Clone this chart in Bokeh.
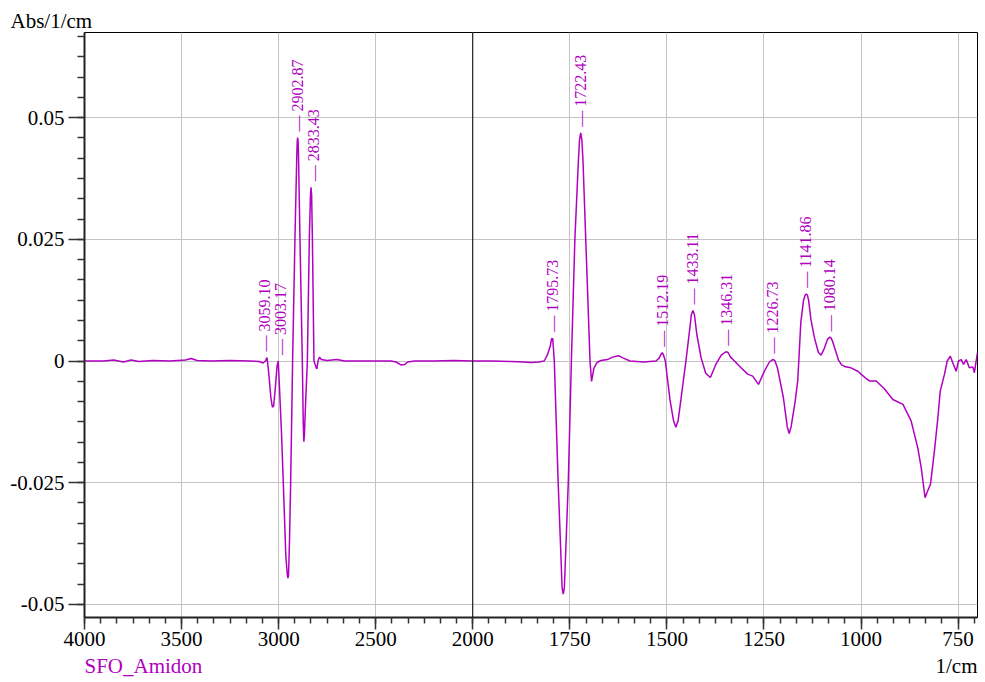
import math
from bokeh.plotting import figure
from bokeh.layouts import column
from bokeh.models import Range1d, FixedTicker, CustomJSTickFormatter, Span
from bokeh.core.properties import value
from bokeh.embed import file_html
from bokeh.resources import INLINE

# ---------------- data (wavenumber in 1/cm, absorbance) ----------------
# high-wavenumber segment 4000 -> 2000
wn_hi = [4000, 3900, 3850, 3800, 3760, 3720, 3650, 3560, 3480, 3450, 3420, 3350,
         3250, 3150, 3100, 3080, 3068, 3060, 3052, 3040, 3032, 3026, 3018, 3008,
         3002, 2995, 2985, 2976, 2963, 2955, 2952, 2949, 2944, 2938, 2928, 2916,
         2906, 2904, 2902, 2900, 2898, 2890, 2878, 2873, 2870, 2867, 2861, 2852,
         2842, 2836, 2833, 2830, 2826, 2818, 2808, 2803, 2796, 2789, 2780, 2750,
         2700, 2660, 2600, 2500, 2420, 2395, 2370, 2350, 2335, 2300, 2200, 2100,
         2000]
abs_hi = [0.0000, 0.0000, 0.0002, -0.0002, 0.0002, -0.0001, 0.0001, 0.0000, 0.0002,
          0.0005, 0.0001, 0.0000, 0.0001, 0.0000, -0.0001, -0.0004, 0.0000, 0.0007,
          -0.0020, -0.0075, -0.0095, -0.0093, -0.0060, -0.0010, 0.0000, -0.0060,
          -0.0150, -0.0250, -0.0400, -0.0440, -0.0446, -0.0440, -0.0370, -0.0250,
          0.0000, 0.0250, 0.0430, 0.0452, 0.0459, 0.0452, 0.0430, 0.0250, 0.0000,
          -0.0130, -0.0166, -0.0150, -0.0085, 0.0000, 0.0250, 0.0340, 0.0357,
          0.0340, 0.0250, 0.0000, -0.0012, -0.0016, 0.0002, 0.0008, 0.0003, 0.0001,
          0.0003, 0.0000, 0.0000, 0.0000, 0.0000, -0.0002, -0.0008, -0.0007,
          -0.0002, 0.0000, 0.0000, 0.0001, 0.0000]

# low-wavenumber segment 2000 -> 700
wn_lo = [2000, 1950, 1900, 1870, 1850, 1830, 1816, 1808, 1800, 1797, 1794, 1790,
         1780, 1772, 1770, 1767, 1764, 1761, 1754, 1746, 1737, 1728, 1725, 1722,
         1719, 1716, 1709, 1698, 1694, 1688, 1680, 1670, 1653, 1640, 1625, 1612,
         1595, 1560, 1528, 1520, 1515, 1512, 1509, 1504, 1492, 1483, 1477, 1471,
         1464, 1451, 1442, 1437, 1433, 1429, 1423, 1412, 1400, 1388, 1374, 1360,
         1350, 1346, 1342, 1336, 1326, 1309, 1292, 1279, 1264, 1249, 1236, 1229,
         1226, 1222, 1215, 1200, 1190, 1185, 1180, 1170, 1163, 1155, 1148, 1144,
         1141, 1138, 1135, 1129, 1120, 1110, 1103, 1095, 1086, 1082, 1080, 1077,
         1074, 1066, 1058, 1050, 1040, 1026, 1008, 1000, 987, 978, 961, 940, 918,
         892, 871, 854, 845, 835, 830, 821, 811, 802, 796, 785, 778, 770, 764,
         755, 749, 742, 736, 729, 721, 712, 708, 704, 700]
abs_lo = [0.0000, 0.0000, -0.0001, -0.0002, -0.0003, -0.0002, 0.0000, 0.0012,
          0.0032, 0.0046, 0.0046, 0.0000, -0.0250, -0.0420, -0.0465, -0.0479,
          -0.0465, -0.0400, -0.0250, 0.0000, 0.0250, 0.0410, 0.0455, 0.0469,
          0.0455, 0.0410, 0.0250, 0.0000, -0.0042, -0.0015, -0.0003, 0.0001,
          0.0003, 0.0008, 0.0011, 0.0006, 0.0000, -0.0002, 0.0000, 0.0006, 0.0014,
          0.0017, 0.0013, 0.0000, -0.0080, -0.0122, -0.0136, -0.0122, -0.0080,
          0.0000, 0.0060, 0.0095, 0.0104, 0.0095, 0.0055, 0.0007, -0.0025,
          -0.0034, -0.0007, 0.0012, 0.0018, 0.0019, 0.0017, 0.0008, 0.0000,
          -0.0014, -0.0027, -0.0031, -0.0048, -0.0021, -0.0002, 0.0002, 0.0003,
          0.0001, -0.0015, -0.0075, -0.0135, -0.0149, -0.0135, -0.0085, -0.0041,
          0.0080, 0.0125, 0.0135, 0.0138, 0.0135, 0.0125, 0.0085, 0.0048, 0.0018,
          0.0012, 0.0025, 0.0045, 0.0048, 0.0049, 0.0047, 0.0042, 0.0022, 0.0002,
          -0.0008, -0.0012, -0.0014, -0.0021, -0.0027, -0.0036, -0.0041, -0.0041,
          -0.0057, -0.0079, -0.0089, -0.0123, -0.0178, -0.0219, -0.0281, -0.0270,
          -0.0253, -0.0185, -0.0116, -0.0062, -0.0027, 0.0000, 0.0010, -0.0003,
          -0.0021, 0.0000, 0.0003, -0.0007, 0.0003, -0.0014, -0.0012, -0.0024,
          -0.0003, 0.0017]

# labelled peaks
peak_hi_wn = [3059.10, 3003.17, 2902.87, 2833.43]
peak_hi_abs = [0.0007, 0.0000, 0.0459, 0.0357]
peak_lo_wn = [1795.73, 1722.43, 1512.19, 1433.11, 1346.31, 1226.73, 1141.86, 1080.14]
peak_lo_abs = [0.0048, 0.0469, 0.0017, 0.0104, 0.0019, 0.0003, 0.0138, 0.0049]

# axis ticks / texts
x_tick_labels = [4000, 3500, 3000, 2500, 2000, 1750, 1500, 1250, 1000, 750]
y_tick_values = [-0.05, -0.025, 0.0, 0.025, 0.05]
y_tick_labels = ["-0.05", "-0.025", "0", "0.025", "0.05"]
series_name = "SFO_Amidon"
y_unit = "Abs/1/cm"
x_unit = "1/cm"

# ---------------- styling ----------------
MAGENTA = "#b000c0"
SERIF = "Liberation Serif"
GRID = "#c4c4c4"
W = 985
hi_label_dx = [-3, 2, 0, 3]   # small horizontal nudges of crowded labels (px)

p = figure(width=W, height=655, output_backend="svg", toolbar_location=None,
           x_range=Range1d(4000, -600), y_range=Range1d(-0.0527, 0.0675),
           min_border_left=84, min_border_right=8, min_border_top=32,
           min_border_bottom=38, background_fill_color="white",
           border_fill_color="white")
p.extra_x_ranges = {"lo": Range1d(3000, 700)}

# y unit as a left-aligned title above the frame
p.title.text = y_unit
p.title.align = "left"
p.title.offset = -74
p.title.standoff = 0
p.title.text_font = SERIF
p.title.text_font_size = "21px"
p.title.text_font_style = "normal"
p.title.text_color = "black"

def to_main(w):
    return w if w >= 2000 else 2000 - (2000 - w) * 2

x_tick_pos = [to_main(w) for w in x_tick_labels]
x_minor = [4000 - k * 500 / 6 for k in range(0, 56)]
y_minor = [-0.05 + k * 0.025 / 6 for k in range(-1, 30)]
y_minor = [v for v in y_minor if -0.0527 <= v <= 0.0675]

xt = FixedTicker(ticks=x_tick_pos, minor_ticks=x_minor)
yt = FixedTicker(ticks=y_tick_values, minor_ticks=y_minor)

p.xaxis.ticker = xt
p.yaxis.ticker = yt
p.xgrid.ticker = xt
p.ygrid.ticker = yt

p.xaxis.formatter = CustomJSTickFormatter(
    args=dict(pos=x_tick_pos, lab=[str(v) for v in x_tick_labels]),
    code="const i = pos.findIndex(v => Math.abs(v - tick) < 1e-6); return i >= 0 ? lab[i] : '';")
p.yaxis.formatter = CustomJSTickFormatter(
    args=dict(pos=y_tick_values, lab=y_tick_labels),
    code="const i = pos.findIndex(v => Math.abs(v - tick) < 1e-9); return i >= 0 ? lab[i] : '';")

for ax in (p.xaxis, p.yaxis):
    ax.axis_line_width = 2
    ax.axis_line_color = "#222222"
    ax.major_tick_line_color = "#333333"
    ax.minor_tick_line_color = "#333333"
    ax.major_tick_line_width = 1.5
    ax.minor_tick_line_width = 1.5
    ax.major_tick_in = 0
    ax.minor_tick_in = 0
    ax.major_label_text_font = SERIF
    ax.major_label_text_font_size = "21px"
    ax.major_label_text_color = "black"

p.xaxis.major_tick_out = 12
p.xaxis.minor_tick_out = 6
p.xaxis.major_label_standoff = 2
p.yaxis.major_tick_out = 16
p.yaxis.minor_tick_out = 7
p.yaxis.major_label_standoff = 4

p.xgrid.grid_line_color = GRID
p.ygrid.grid_line_color = GRID
p.xgrid.grid_line_width = 1
p.ygrid.grid_line_width = 1

p.outline_line_color = "black"
p.outline_line_width = 1

# separator between the two scales
p.add_layout(Span(location=2000, dimension="height", line_color="black", line_width=1))

# spectrum
p.line(wn_hi, abs_hi, line_color=MAGENTA, line_width=1.5)
p.line(wn_lo, abs_lo, line_color=MAGENTA, line_width=1.5, x_range_name="lo")

# peak labels (rotated, with leader dash)
common = dict(angle=math.pi / 2, text_align="left", text_baseline="middle",
              text_color=MAGENTA, text_font=value(SERIF), text_font_size="16px",
              y_offset=-6)
p.text(peak_hi_wn, peak_hi_abs, text=["\u2014 " + f"{w:.2f}" for w in peak_hi_wn],
       x_offset=hi_label_dx, **common)
p.text(peak_lo_wn, peak_lo_abs, text=["\u2014 " + f"{w:.2f}" for w in peak_lo_wn],
       x_range_name="lo", **common)

# strip below the plot carrying the series name and the x unit
bot = figure(width=W, height=27, title=None, output_backend="svg",
             toolbar_location=None, x_range=Range1d(84, 977), y_range=Range1d(0, 27),
             x_axis_type=None, y_axis_type=None, min_border_left=84,
             min_border_right=8, min_border_top=0, min_border_bottom=0,
             background_fill_color="white", border_fill_color="white")
bot.outline_line_color = None
bot.text(x=[84], y=[17], text=[series_name], text_font=value(SERIF),
         text_font_size="21px", text_color=MAGENTA, text_baseline="middle",
         text_align="left")
bot.text(x=[977], y=[17], text=[x_unit], text_font=value(SERIF),
         text_font_size="21px", text_color="black", text_baseline="middle",
         text_align="right")

layout = column(p, bot, spacing=0)

open("out.html", "w").write(file_html(layout, INLINE))
